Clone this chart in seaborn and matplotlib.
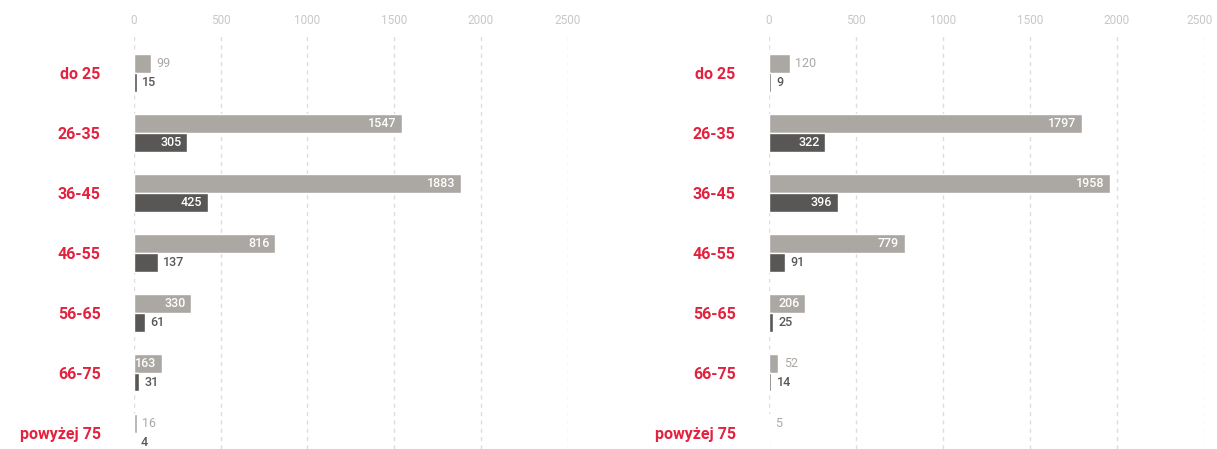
import numpy as np
import pandas as pd
import seaborn as sns
from matplotlib import pyplot as plt
from matplotlib.transforms import ScaledTranslation

# age groups and counts (light = all, dark = subset)
ages = ['do 25', '26-35', '36-45', '46-55', '56-65', '66-75', 'powyżej 75']
left_light = [99, 1547, 1883, 816, 330, 163, 16]
left_dark = [15, 305, 425, 137, 61, 31, 4]
right_light = [120, 1797, 1958, 779, 206, 52, 5]
right_dark = [9, 322, 396, 91, 25, 14, 0]
xticks = [0, 500, 1000, 1500, 2000, 2500]

c_light = '#aba7a3'
c_dark = '#585755'
c_red = '#e3223f'

sns.set_style('white')
plt.rcParams['font.family'] = ['Roboto', 'DejaVu Sans']


def make_df(light, dark):
    return pd.DataFrame({
        'wiek': ages * 2,
        'liczba': list(light) + list(dark),
        'seria': ['A'] * len(ages) + ['B'] * len(ages),
    })


fig = plt.figure(figsize=(12.17, 4.49), dpi=100)
ax1 = fig.add_axes([134 / 1217, 0.0, 433.5 / 1217, 414 / 449])
ax2 = fig.add_axes([769 / 1217, 0.0, 435 / 1217, 414 / 449])

for ax, light, dark in [(ax1, left_light, left_dark), (ax2, right_light, right_dark)]:
    df = make_df(light, dark)
    sns.barplot(data=df, y='wiek', x='liczba', hue='seria', orient='h',
                palette={'A': c_light, 'B': c_dark}, saturation=1,
                width=0.624, legend=False, ax=ax)

    ax.set_xlim(0, 2500)
    ax.set_ylim(6.272, -0.634)
    ax.set_xlabel('')
    ax.set_ylabel('')
    for s in ax.spines.values():
        s.set_visible(False)
    ax.grid(axis='x', color='#dddddd', linestyle=(0, (3, 3)), linewidth=1)
    ax.grid(axis='y', visible=False)
    ax.set_axisbelow(True)

    ax.xaxis.tick_top()
    ax.set_xticks(xticks)
    ax.tick_params(axis='x', length=0, pad=6, labelsize=8.5, labelcolor='#c8c8c8')
    ax.tick_params(axis='y', length=0, pad=24, labelsize=11.5, labelcolor=c_red)
    for lab in ax.get_yticklabels():
        lab.set_fontweight('bold')

    # value labels: inside the bar (white) when wide enough, otherwise outside
    for k, cont in enumerate(ax.containers):
        out_col = c_light if k == 0 else c_dark
        for bar in cont:
            v = bar.get_width()
            if v <= 0:
                continue
            yc = bar.get_y() + bar.get_height() / 2
            if v > 150:
                ax.annotate(f'{int(v)}', (v, yc), xytext=(-4, 0), textcoords='offset points',
                            ha='right', va='center', color='white', fontsize=9,
                            fontweight='medium')
            else:
                ax.annotate(f'{int(v)}', (v, yc), xytext=(4, 0), textcoords='offset points',
                            ha='left', va='center', color=out_col, fontsize=9,
                            fontweight='medium' if k == 1 else 'normal')

# keep the last top label of the right panel inside the picture
last = ax2.xaxis.get_major_ticks()[-1].label2
last.set_transform(last.get_transform() + ScaledTranslation(-0.04, 0, fig.dpi_scale_trans))

fig.savefig('out.png', dpi=100)
